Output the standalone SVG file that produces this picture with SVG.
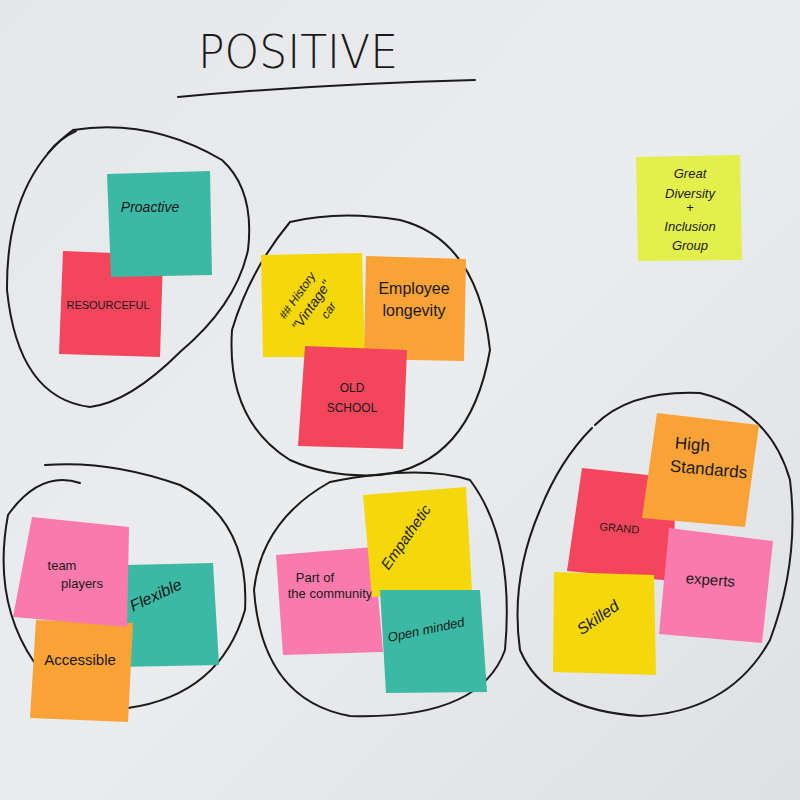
<svg xmlns="http://www.w3.org/2000/svg" width="800" height="800" viewBox="0 0 800 800">
<defs>
<linearGradient id="bg" x1="0" y1="0" x2="1" y2="1">
<stop offset="0" stop-color="#e6e7ea"/>
<stop offset="0.5" stop-color="#ebecee"/>
<stop offset="1" stop-color="#dfe0e3"/>
</linearGradient>
</defs>
<style>
.loop{fill:none;stroke:#1a1a1a;stroke-width:2;stroke-linecap:round}
.hand{font-family:"Liberation Sans","DejaVu Sans",sans-serif;fill:#1a1a1a;text-anchor:middle}
.teal{fill:#3cb9a4}
.red{fill:#f3465c}
.yellow{fill:#f4d80c}
.orange{fill:#f9a236}
.pink{fill:#f97aac}
.lime{fill:#e3f04c}
</style>
<rect width="800" height="800" fill="url(#bg)"/>
<g id="title">
<text x="198" y="68" font-family="'DejaVu Sans', sans-serif" font-weight="200" font-size="46" fill="#1a1a1a" textLength="200" lengthAdjust="spacingAndGlyphs">POSITIVE</text>
<path class="loop" d="M178 97 Q320 84 475 80"/>
</g>
<g id="connectors">
<path class="loop" d="M73 130 Q150 118 222 160 Q255 190 248 250 Q236 305 180 352 Q130 402 90 407 Q18 398 7 290 Q6 180 73 130"/>
<path class="loop" d="M48 153 Q60 138 76 131"/>
<path class="loop" d="M290 222 Q250 270 232 330 Q226 420 290 460 Q330 478 380 475 Q470 465 490 350 Q478 240 400 220 Q340 210 290 222"/>
<path class="loop" d="M80 483 Q40 470 8 515 Q-8 600 34 662"/>
<path class="loop" d="M128 708 Q220 695 245 610 Q250 520 180 485 Q110 460 45 465"/>
<path class="loop" d="M330 482 Q262 520 254 590 Q262 700 350 716 Q480 720 505 650 Q515 540 470 480 Q420 464 330 482"/>
<path class="loop" d="M592 428 Q560 460 540 510 Q510 580 520 650 Q545 710 640 716 Q730 712 770 640 Q800 560 790 480 Q770 410 700 393 Q630 390 595 425"/>
</g>
<g id="resourceful">
<polygon class="red" points="63,251 163,255 160,357 59,354"/>
<text class="hand" x="108" y="309" font-size="11">RESOURCEFUL</text>
</g>
<g id="proactive">
<polygon class="teal" points="107,174 210,171 212,275 111,277"/>
<text class="hand" x="150" y="212" font-size="14" font-style="italic">Proactive</text>
</g>
<g id="great-diversity">
<polygon class="lime" points="636,157 740,155 742,260 638,261"/>
<text class="hand" x="690" y="178" font-size="13" font-style="italic">Great</text>
<text class="hand" x="690" y="198" font-size="13" font-style="italic">Diversity</text>
<text class="hand" x="690" y="212" font-size="13">+</text>
<text class="hand" x="690" y="231" font-size="13" font-style="italic">Inclusion</text>
<text class="hand" x="690" y="250" font-size="13" font-style="italic">Group</text>
</g>
<g id="history">
<polygon class="yellow" points="261,255 362,253 365,357 263,357"/>
<g transform="translate(312,306) rotate(-55)">
<text class="hand" x="0" y="-14" font-size="12" font-style="italic">## History</text>
<text class="hand" x="0" y="4" font-size="14" font-style="italic">"Vintage"</text>
<text class="hand" x="6" y="20" font-size="12" font-style="italic">car</text>
</g>
</g>
<g id="employee-longevity">
<polygon class="orange" points="366,256 466,259 464,361 364,359"/>
<text class="hand" x="414" y="294" font-size="16">Employee</text>
<text class="hand" x="414" y="316" font-size="16">longevity</text>
</g>
<g id="old-school">
<polygon class="red" points="305,346 407,350 403,449 298,446"/>
<text class="hand" x="352" y="392" font-size="12">OLD</text>
<text class="hand" x="352" y="412" font-size="12">SCHOOL</text>
</g>
<g id="flexible">
<polygon class="teal" points="125,565 213,563 219,665 118,667"/>
<text class="hand" x="0" y="0" font-size="16" font-style="italic" transform="translate(158,600) rotate(-25)">Flexible</text>
</g>
<g id="accessible">
<polygon class="orange" points="36,620 133,623 128,722 30,718"/>
<text class="hand" x="80" y="665" font-size="15">Accessible</text>
</g>
<g id="team-players">
<polygon class="pink" points="32,517 129,527 127,627 13,617"/>
<text class="hand" x="62" y="570" font-size="13">team</text>
<text class="hand" x="82" y="588" font-size="13">players</text>
</g>
<g id="part-of-community">
<polygon class="pink" points="276,555 374,547 383,652 283,655"/>
<text class="hand" x="315" y="582" font-size="13">Part of</text>
<text class="hand" x="330" y="598" font-size="13">the community</text>
</g>
<g id="empathetic">
<polygon class="yellow" points="363,495 466,487 472,590 372,597"/>
<text class="hand" x="0" y="0" font-size="15" font-style="italic" transform="translate(410,540) rotate(-55)">Empathetic</text>
</g>
<g id="open-minded">
<polygon class="teal" points="380,590 480,590 487,692 386,693"/>
<text class="hand" x="0" y="0" font-size="13" font-style="italic" transform="translate(427,634) rotate(-12)">Open minded</text>
</g>
<g id="grand">
<polygon class="red" points="582,468 676,478 673,581 567,571"/>
<text class="hand" x="0" y="0" font-size="11" transform="translate(619,532) rotate(5)">GRAND</text>
</g>
<g id="high-standards">
<polygon class="orange" points="657,413 759,425 745,527 642,518"/>
<text class="hand" x="0" y="0" font-size="17" transform="translate(692,450) rotate(5)">High</text>
<text class="hand" x="0" y="0" font-size="17" transform="translate(708,475) rotate(5)">Standards</text>
</g>
<g id="experts">
<polygon class="pink" points="669,528 773,541 762,643 659,634"/>
<text class="hand" x="0" y="0" font-size="15" transform="translate(710,585) rotate(4)">experts</text>
</g>
<g id="skilled">
<polygon class="yellow" points="554,572 654,575 656,675 553,672"/>
<text class="hand" x="0" y="0" font-size="16" font-style="italic" transform="translate(601,622) rotate(-35)">Skilled</text>
</g>
</svg>
